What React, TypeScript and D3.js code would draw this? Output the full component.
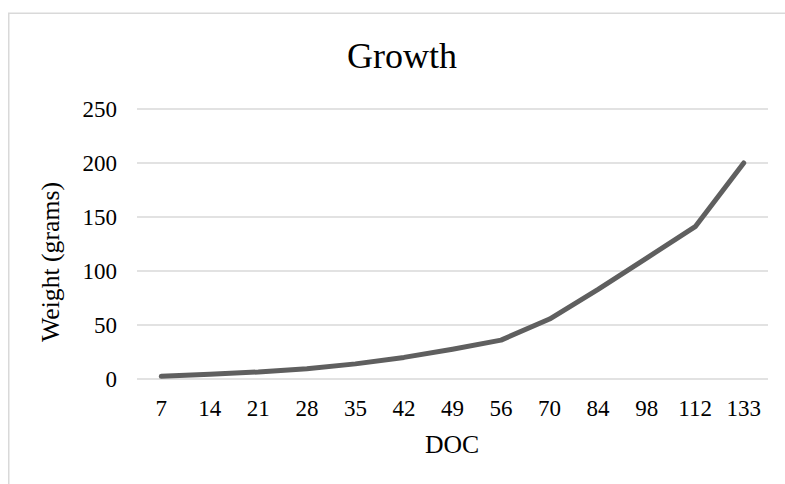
import React from "react";
import * as d3 from "d3";

const categories: string[] = ["7", "14", "21", "28", "35", "42", "49", "56", "70", "84", "98", "112", "133"];
const weights: number[] = [2.5, 4.5, 6.5, 9.5, 14, 20, 27.5, 36, 55.5, 83, 112, 141, 200];
const yTicks: number[] = [0, 50, 100, 150, 200, 250];
const chartTitle = "Growth";
const xTitle = "DOC";
const yTitle = "Weight (grams)";

const W = 785;
const H = 484;
const FONT = "'Liberation Serif', 'Times New Roman', serif";

export default function App() {
  const x = d3.scaleBand<string>().domain(categories).range([137, 768]).padding(0);
  const y = d3.scaleLinear().domain([0, 250]).range([379, 109]);
  const cx = (c: string) => (x(c) as number) + x.bandwidth() / 2;
  const line = d3
    .line<number>()
    .x((_, i) => cx(categories[i]))
    .y((d) => y(d));

  return (
    <svg
      width={W}
      height={H}
      style={{ position: "absolute", left: 0, top: 0, background: "#fff" }}
      fontFamily={FONT}
    >
      <rect x={0} y={0} width={W} height={H} fill="#fff" />
      <rect x={8.75} y={13.25} width={W + 20} height={H + 20} fill="none" stroke="#d9d9d9" strokeWidth={1.5} />
      <text x={402} y={68} textAnchor="middle" fontSize={36} fill="#000">
        {chartTitle}
      </text>
      {yTicks.map((t) => (
        <g key={t}>
          <line x1={137} x2={768} y1={y(t)} y2={y(t)} stroke="#d9d9d9" strokeWidth={1.5} />
          <text x={117} y={y(t) + 8} textAnchor="end" fontSize={23} fill="#000">
            {t}
          </text>
        </g>
      ))}
      {categories.map((c) => (
        <text key={c} x={cx(c)} y={416} textAnchor="middle" fontSize={23} fill="#000">
          {c}
        </text>
      ))}
      <path
        d={line(weights) || ""}
        fill="none"
        stroke="#5f5f5f"
        strokeWidth={5}
        strokeLinecap="round"
        strokeLinejoin="round"
      />
      <text x={452} y={453} textAnchor="middle" fontSize={25.7} fill="#000">
        {xTitle}
      </text>
      <text
        transform={`translate(59, 262) rotate(-90)`}
        textAnchor="middle"
        fontSize={25.7}
        fill="#000"
      >
        {yTitle}
      </text>
    </svg>
  );
}
